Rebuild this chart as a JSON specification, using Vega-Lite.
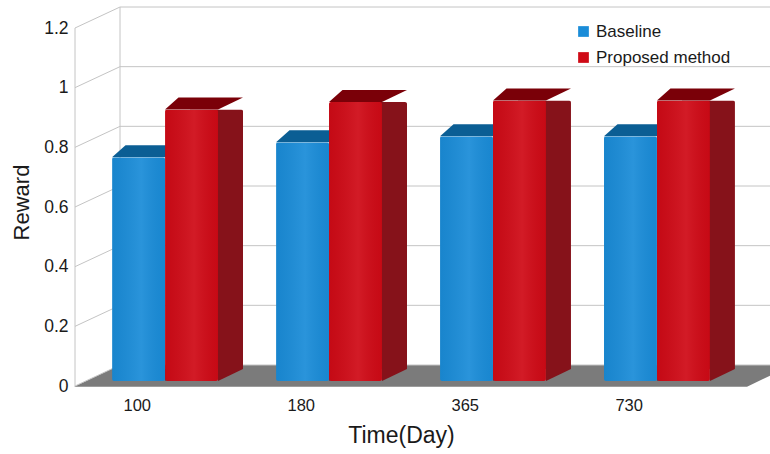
{
  "$schema": "https://vega.github.io/schema/vega-lite/v6.json",
  "autosize": {"type": "none"},
  "width": 672,
  "height": 358,
  "padding": {"left": 75, "top": 23, "right": 23, "bottom": 73},
  "background": "white",
  "config": {
    "font": "Liberation Sans",
    "view": {"stroke": null}
  },
  "datasets": {
    "rewards": [
      {"time": "100", "series": "Baseline", "reward": 0.75},
      {"time": "100", "series": "Proposed method", "reward": 0.91},
      {"time": "180", "series": "Baseline", "reward": 0.80},
      {"time": "180", "series": "Proposed method", "reward": 0.935},
      {"time": "365", "series": "Baseline", "reward": 0.82},
      {"time": "365", "series": "Proposed method", "reward": 0.94},
      {"time": "730", "series": "Baseline", "reward": 0.82},
      {"time": "730", "series": "Proposed method", "reward": 0.94}
    ],
    "levels": [
      {"v": 0}, {"v": 0.2}, {"v": 0.4}, {"v": 0.6}, {"v": 0.8}, {"v": 1.0}, {"v": 1.2}
    ]
  },
  "encoding": {
    "y": {
      "type": "quantitative",
      "scale": {"domain": [0, 1.2], "nice": false, "zero": true}
    }
  },
  "layer": [
    {
      "data": {"name": "levels"},
      "transform": [{"filter": "datum.v == 0"}],
      "mark": {
        "type": "point",
        "filled": true,
        "opacity": 1,
        "strokeWidth": 0,
        "size": 640000,
        "color": "#7b7b7b",
        "shape": "M -0.8425 0.0145 L 0.84 0.0145 L 0.9525 -0.04 L -0.7275 -0.04 Z"
      },
      "encoding": {"y": {"field": "v", "type": "quantitative"}}
    },
    {
      "data": {"name": "levels"},
      "mark": {
        "type": "point",
        "filled": false,
        "opacity": 1,
        "strokeWidth": 1,
        "size": 640000,
        "color": "#c4c4c4",
        "shape": "M -0.84 0.0125 L -0.7275 -0.04 L 1.05 -0.04"
      },
      "encoding": {"y": {"field": "v", "type": "quantitative"}}
    },
    {
      "data": {"name": "levels"},
      "transform": [{"filter": "datum.v == 0"}],
      "mark": {
        "type": "point",
        "filled": false,
        "opacity": 1,
        "strokeWidth": 1,
        "size": 640000,
        "color": "#c4c4c4",
        "shape": "M -0.7275 -0.04 L -0.7275 -0.935 M -0.84 0.0125 L -0.84 -0.8825"
      },
      "encoding": {"y": {"field": "v", "type": "quantitative"}}
    },
    {
      "data": {"name": "rewards"},
      "transform": [{"filter": "datum.series == 'Proposed method'"}],
      "mark": {
        "type": "bar",
        "width": 53,
        "xOffset": 51.5,
        "yOffset": -12,
        "y2Offset": -12,
        "cornerRadiusTopRight": 2,
        "color": "#86121a"
      },
      "encoding": {
        "x": {"field": "time", "type": "nominal", "sort": null},
        "y": {"field": "reward", "type": "quantitative"}
      }
    },
    {
      "data": {"name": "rewards"},
      "mark": {
        "type": "point",
        "filled": true,
        "opacity": 1,
        "strokeWidth": 0,
        "size": 40000,
        "shape": "M 0.265 0 L 0.265 -0.12 L 0.515 -0.12 Z"
      },
      "encoding": {
        "x": {"field": "time", "type": "nominal", "sort": null},
        "xOffset": {"field": "series", "type": "nominal"},
        "y": {"datum": 0},
        "color": {
          "condition": {"test": "datum.series == 'Baseline'", "value": "#0b5e94"},
          "value": "#86121a"
        }
      }
    },
    {
      "data": {"name": "rewards"},
      "mark": {
        "type": "point",
        "filled": true,
        "opacity": 1,
        "strokeWidth": 0,
        "size": 40000,
        "shape": "M -0.265 0 L 0.265 0 L 0.515 -0.12 L -0.13 -0.12 Z"
      },
      "encoding": {
        "x": {"field": "time", "type": "nominal", "sort": null},
        "xOffset": {"field": "series", "type": "nominal"},
        "y": {"field": "reward", "type": "quantitative"},
        "color": {
          "condition": {"test": "datum.series == 'Baseline'", "value": "#0b5e94"},
          "value": "#7a0008"
        }
      }
    },
    {
      "data": {"name": "rewards"},
      "mark": {"type": "bar", "cornerRadius": 2},
      "encoding": {
        "x": {
          "field": "time",
          "type": "nominal",
          "sort": null,
          "scale": {"paddingInner": 0.354, "paddingOuter": 0.226},
          "axis": {
            "title": "Time(Day)",
            "titleFontSize": 23,
            "titleFontWeight": "normal",
            "titleColor": "#1a1a1a",
            "titlePadding": 11,
            "titleX": 326,
            "labelAngle": 0,
            "labelFontSize": 16.5,
            "labelColor": "#1a1a1a",
            "labelPadding": 24,
            "labelOffset": -14,
            "ticks": false,
            "domain": false,
            "grid": false
          }
        },
        "xOffset": {
          "field": "series",
          "type": "nominal",
          "scale": {"paddingInner": 0, "paddingOuter": 0}
        },
        "y": {
          "field": "reward",
          "type": "quantitative",
          "axis": {
            "title": "Reward",
            "titleFontSize": 22,
            "titleFontWeight": "normal",
            "titleColor": "#1a1a1a",
            "titlePadding": 10,
            "values": [0, 0.2, 0.4, 0.6, 0.8, 1, 1.2],
            "format": "~g",
            "labelFontSize": 17.5,
            "labelColor": "#1a1a1a",
            "labelPadding": 7,
            "labelOffset": 5,
            "ticks": false,
            "domain": false,
            "grid": false
          }
        },
        "color": {
          "field": "series",
          "type": "nominal",
          "scale": {"domain": ["Baseline", "Proposed method"], "range": ["#1a8cd8", "#cf0a16"]},
          "legend": {
            "title": null,
            "orient": "none",
            "legendX": 500,
            "legendY": 0,
            "symbolType": "square",
            "symbolSize": 115,
            "symbolStrokeWidth": 0,
            "labelFontSize": 17,
            "labelColor": "#1a1a1a",
            "rowPadding": 8,
            "labelOffset": 4
          }
        }
      }
    },
    {
      "data": {"name": "rewards"},
      "mark": {
        "type": "bar",
        "cornerRadius": 2,
        "fill": {
          "x1": 0, "y1": 0, "x2": 1, "y2": 0,
          "gradient": "linear",
          "stops": [
            {"offset": 0, "color": "rgba(0,0,0,0.05)"},
            {"offset": 0.55, "color": "rgba(255,255,255,0.07)"},
            {"offset": 1, "color": "rgba(0,0,0,0.04)"}
          ]
        }
      },
      "encoding": {
        "x": {"field": "time", "type": "nominal", "sort": null},
        "xOffset": {"field": "series", "type": "nominal"},
        "y": {"field": "reward", "type": "quantitative"}
      }
    }
  ]
}
